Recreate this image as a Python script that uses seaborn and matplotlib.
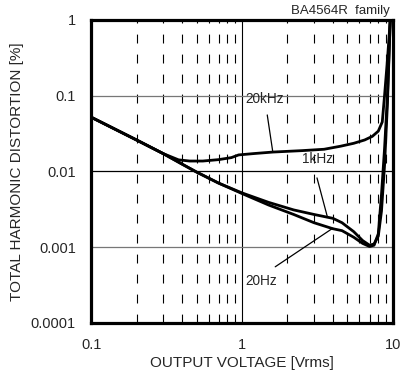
import matplotlib
matplotlib.use("Agg")
import matplotlib.pyplot as plt
import seaborn as sns
import pandas as pd
from matplotlib.ticker import FixedLocator, NullFormatter, FixedFormatter

# data
v_20k = [0.1, 0.2, 0.3, 0.38, 0.45, 0.55, 0.7, 0.85, 0.95, 1.2, 1.6, 2.5, 3.5, 4.5, 5.5, 6.5, 7.3, 8.0, 8.5, 8.8, 9.2, 9.6]
thd_20k = [0.052, 0.026, 0.0172, 0.0142, 0.0137, 0.0137, 0.0143, 0.0152, 0.0165, 0.0172, 0.018, 0.0188, 0.0196, 0.0215, 0.0235, 0.026, 0.029, 0.034, 0.045, 0.1, 0.3, 1.0]

v_1k = [0.1, 0.2, 0.3, 0.4, 0.5, 0.7, 1.0, 1.5, 2.2, 3.0, 4.0, 4.6, 5.5, 6.3, 7.0, 7.5, 8.0, 8.4, 8.8, 9.2, 9.6]
thd_1k = [0.052, 0.026, 0.0172, 0.0125, 0.0098, 0.007, 0.0052, 0.0039, 0.0031, 0.0027, 0.0024, 0.0021, 0.0016, 0.00122, 0.00106, 0.0011, 0.0014, 0.003, 0.012, 0.08, 1.0]

v_20 = [0.1, 0.2, 0.3, 0.4, 0.5, 0.7, 1.0, 1.5, 2.2, 3.0, 4.0, 4.6, 5.5, 6.3, 7.0, 7.5, 8.0, 8.4, 8.8, 9.2, 9.6]
thd_20 = [0.052, 0.026, 0.0172, 0.0125, 0.0098, 0.007, 0.0051, 0.0036, 0.0027, 0.0021, 0.00175, 0.00165, 0.00135, 0.00112, 0.00102, 0.00106, 0.0015, 0.005, 0.02, 0.1, 1.0]

x_ticks = [0.1, 1, 10]
x_labels = ["0.1", "1", "10"]
y_ticks = [0.0001, 0.001, 0.01, 0.1, 1]
y_labels = ["0.0001", "0.001", "0.01", "0.1", "1"]

df = pd.concat([
    pd.DataFrame({"v": v_20k, "thd": thd_20k, "freq": "20kHz"}),
    pd.DataFrame({"v": v_1k, "thd": thd_1k, "freq": "1kHz"}),
    pd.DataFrame({"v": v_20, "thd": thd_20, "freq": "20Hz"}),
])

sns.set_style("white")
plt.rcParams["font.family"] = ["Liberation Sans", "DejaVu Sans"]

fig = plt.figure(figsize=(4.03, 3.83), dpi=100)
ax = fig.add_axes([0.226, 0.157, 0.749, 0.791])

ax.set_xscale("log")
ax.set_yscale("log")
ax.set_xlim(0.1, 10)
ax.set_ylim(0.0001, 1)

# grid
for d in [0.1, 1]:
    for m in range(2, 10):
        ax.axvline(d * m, color="black", lw=0.8, dashes=(8, 10), zorder=1)
ax.axvline(1, color="black", lw=0.8, zorder=1)
ax.axhline(0.1, color="#777777", lw=0.9, zorder=1)
ax.axhline(0.01, color="black", lw=0.9, zorder=1)
ax.axhline(0.001, color="#777777", lw=0.9, zorder=1)

sns.lineplot(data=df, x="v", y="thd", hue="freq", palette=["black"] * 3,
             lw=2.0, sort=False, estimator=None, legend=False, ax=ax, zorder=3)

ax.xaxis.set_major_locator(FixedLocator(x_ticks))
ax.xaxis.set_major_formatter(FixedFormatter(x_labels))
ax.yaxis.set_major_locator(FixedLocator(y_ticks))
ax.yaxis.set_major_formatter(FixedFormatter(y_labels))
ax.xaxis.set_minor_formatter(NullFormatter())
ax.yaxis.set_minor_formatter(NullFormatter())
ax.tick_params(which="both", length=0, labelsize=10.5, pad=11)

for s in ax.spines.values():
    s.set_visible(True)
    s.set_linewidth(2.3)
    s.set_color("black")

ax.set_xlabel("OUTPUT VOLTAGE [Vrms]", fontsize=11, labelpad=3)
ax.set_ylabel("TOTAL HARMONIC DISTORTION [%]", fontsize=11, labelpad=5)

# annotations
ax.text(1.05, 0.09, "20kHz", fontsize=9.8, va="center", ha="left")
ax.plot([1.47, 1.60], [0.0556, 0.018], color="black", lw=0.9, zorder=4)
ax.text(2.5, 0.0145, "1kHz", fontsize=9.8, va="center", ha="left")
ax.plot([3.14, 3.68], [0.0082, 0.0025], color="black", lw=0.9, zorder=4)
ax.text(1.05, 0.00036, "20Hz", fontsize=9.8, va="center", ha="left")
ax.plot([1.66, 4.0], [0.00055, 0.00178], color="black", lw=0.9, zorder=4)

fig.text(0.967, 0.972, "BA4564R  family", fontsize=9.5, ha="right", va="center")

fig.savefig("out.png", dpi=100)
